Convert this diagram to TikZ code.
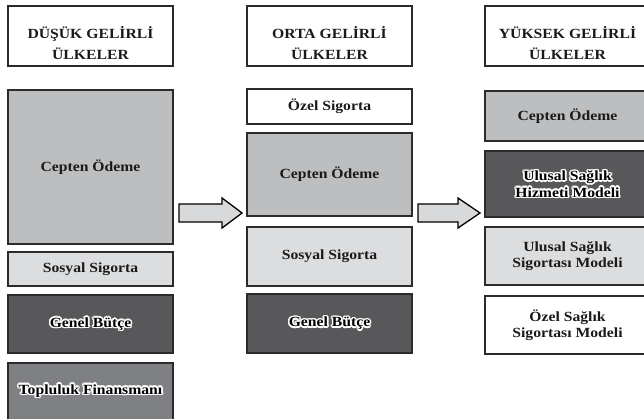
\documentclass[tikz,border=0pt]{standalone}
\usepackage{fontspec}
\setmainfont{Liberation Serif}[FakeStretch=1.12]
\definecolor{cgray}{HTML}{BDBEC0}
\definecolor{clight}{HTML}{DCDDDF}
\definecolor{cdark}{HTML}{58585A}
\definecolor{cmid}{HTML}{7F8084}
\definecolor{carrow}{HTML}{D8D9DB}
\definecolor{cborder}{HTML}{2B2B2B}
\definecolor{ctext}{HTML}{1A1A1A}
\tikzset{
  box/.style={draw=cborder, line width=1.3pt, rectangle, inner sep=0pt, minimum width=165pt},
  txt/.style={font=\fontsize{14}{16.5}\selectfont\bfseries, align=center, text=ctext, inner sep=0pt},
  hdr/.style={font=\fontsize{14}{21}\selectfont\bfseries, align=center, text=ctext, inner sep=0pt},
  blockarrow/.style={draw=black, line width=1.3pt, fill=carrow, line join=miter},
}
\newcommand\halonode[2]{%
  \foreach \a in {0,22.5,...,337.5}
    \node[txt, text=white] at ([shift={(\a:1.5pt)}]#1.center) {#2};
  \node[txt, text=black] at (#1.center) {#2};}
\begin{document}
\begin{tikzpicture}[x=1pt,y=-1pt]
\useasboundingbox (0,0) rectangle (644,419);
\clip (0,0) rectangle (644,419);
% left column
\node[box, fill=white, minimum height=60pt] (lh) at (90.5,36) {};
\node[hdr] at ([yshift=-7pt]lh.center) {DÜŞÜK GELİRLİ\\ÜLKELER};
\node[box, fill=cgray, minimum height=154pt] (lc) at (90.5,167) {};
\node[txt] at (lc.center) {Cepten Ödeme};
\node[box, fill=clight, minimum height=34pt] (ls) at (90.5,269) {};
\node[txt] at (ls.center) {Sosyal Sigorta};
\node[box, fill=cdark, minimum height=58pt] (lg) at (90.5,324) {};
\halonode{lg}{Genel Bütçe}
\node[box, fill=cmid, minimum height=77pt] (lt) at (90.5,401.5) {};
\node[coordinate] (ltc) at (90.5,391) {};
\halonode{ltc}{Topluluk Finansmanı}
% middle column
\node[box, fill=white, minimum height=60pt] (mh) at (329.5,36) {};
\node[hdr] at ([yshift=-7pt]mh.center) {ORTA GELİRLİ\\ÜLKELER};
\node[box, fill=white, minimum height=35pt] (mo) at (329.5,106.5) {};
\node[txt] at (mo.center) {Özel Sigorta};
\node[box, fill=cgray, minimum height=83pt] (mc) at (329.5,174.5) {};
\node[txt] at (mc.center) {Cepten Ödeme};
\node[box, fill=clight, minimum height=59pt] (ms) at (329.5,256.5) {};
\node[txt] at (ms.center) {Sosyal Sigorta};
\node[box, fill=cdark, minimum height=59pt] (mg) at (329.5,323.5) {};
\halonode{mg}{Genel Bütçe}
% right column
\node[box, fill=white, minimum height=60pt] (rh) at (567.5,36) {};
\node[hdr] at ([yshift=-7pt]rh.center) {YÜKSEK GELİRLİ\\ÜLKELER};
\node[box, fill=cgray, minimum height=50pt] (rc) at (567.5,116) {};
\node[txt] at (rc.center) {Cepten Ödeme};
\node[box, fill=cdark, minimum height=66pt] (ru) at (567.5,184) {};
\halonode{ru}{Ulusal Sağlık\\Hizmeti Modeli}
\node[box, fill=clight, minimum height=58pt] (rs) at (567.5,256) {};
\node[txt] at (rs.center) {Ulusal Sağlık\\Sigortası Modeli};
\node[box, fill=white, minimum height=58pt] (ro) at (567.5,325) {};
\node[txt] at (ro.center) {Özel Sağlık\\Sigortası Modeli};
% arrows
\draw[blockarrow] (179,204) -- (222,204) -- (222,198) -- (242,213) -- (222,228) -- (222,222) -- (179,222) -- cycle;
\draw[blockarrow] (418,204) -- (458,204) -- (458,198) -- (480,213) -- (458,228) -- (458,222) -- (418,222) -- cycle;
\end{tikzpicture}
\end{document}
